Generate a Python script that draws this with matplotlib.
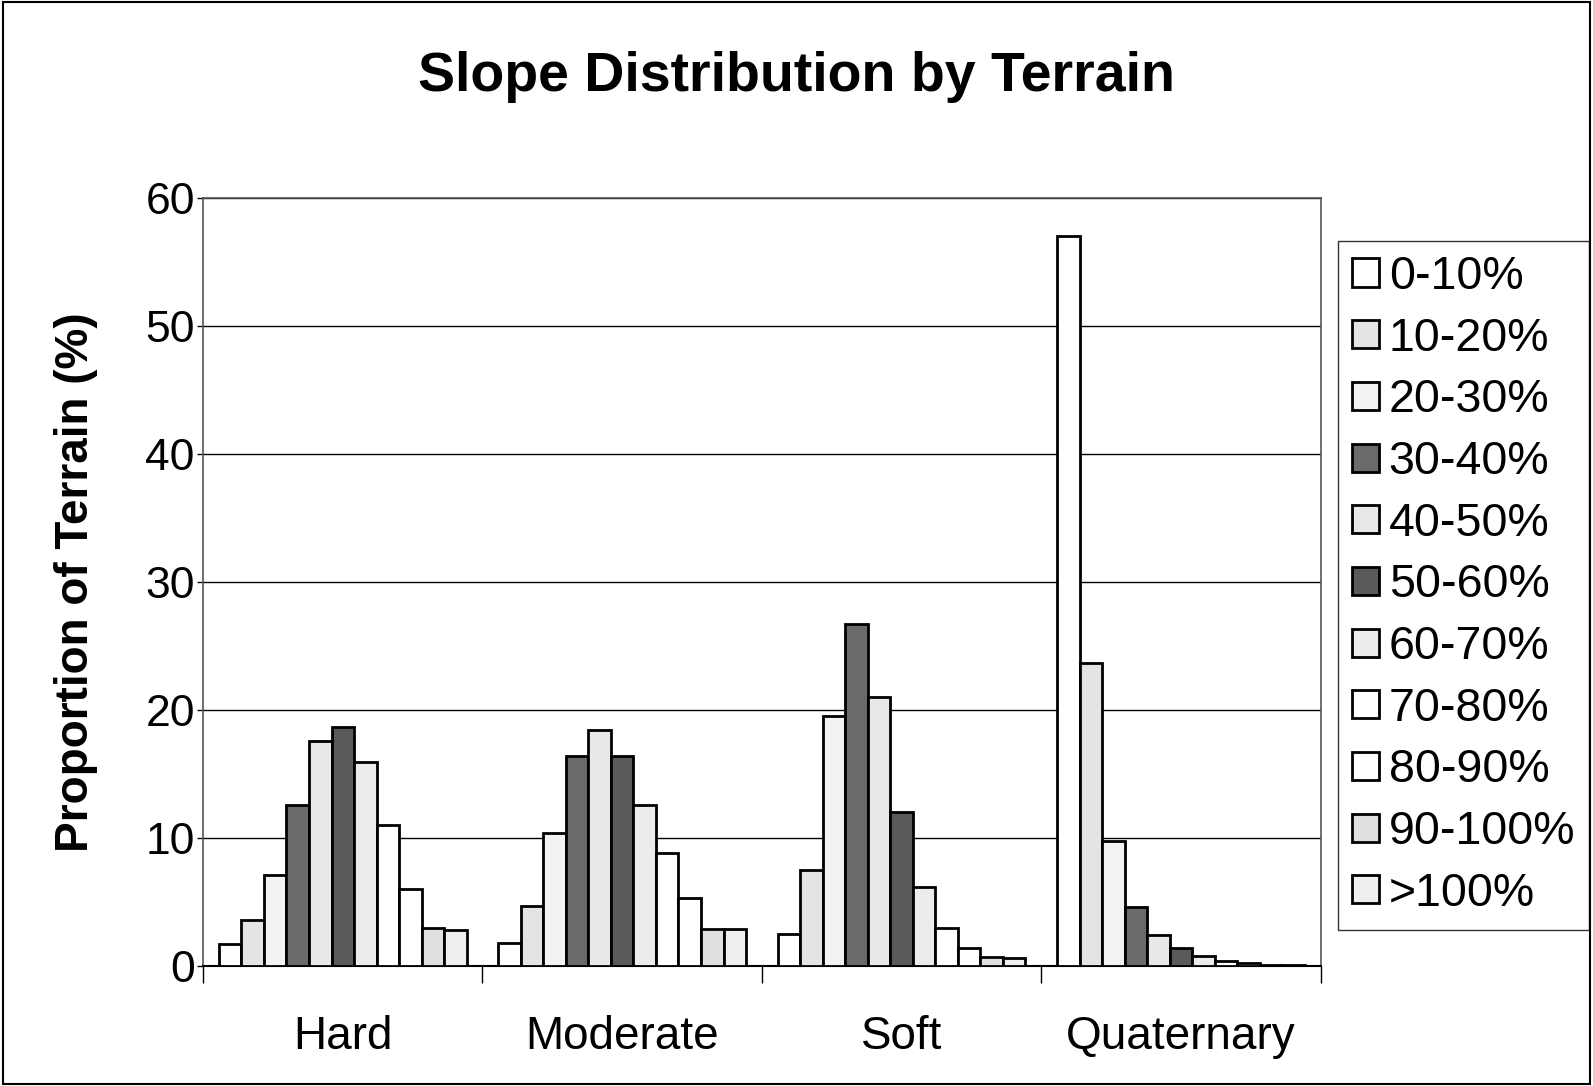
import matplotlib
matplotlib.use("Agg")
import matplotlib.pyplot as plt
import numpy as np
from matplotlib.patches import Rectangle

plt.rcParams['font.family'] = ['Liberation Sans', 'DejaVu Sans']

terrains = ['Hard', 'Moderate', 'Soft', 'Quaternary']
slope_classes = ['0-10%', '10-20%', '20-30%', '30-40%', '40-50%', '50-60%',
                 '60-70%', '70-80%', '80-90%', '90-100%', '>100%']

# proportion of terrain (%) per slope class, one list per terrain
hard = [1.7, 3.6, 7.1, 12.6, 17.6, 18.7, 15.9, 11.0, 6.0, 3.0, 2.8]
moderate = [1.8, 4.7, 10.4, 16.4, 18.4, 16.4, 12.6, 8.8, 5.3, 2.9, 2.9]
soft = [2.5, 7.5, 19.5, 26.7, 21.0, 12.0, 6.2, 3.0, 1.4, 0.7, 0.6]
quaternary = [57.0, 23.7, 9.8, 4.6, 2.4, 1.4, 0.8, 0.4, 0.2, 0.1, 0.05]

fills = ['white', '#e4e4e4', '#f2f2f2', '#6a6a6a', '#e8e8e8', '#5a5a5a',
         '#ececec', 'white', 'white', '#e0e0e0', '#eeeeee']

data = np.array([hard, moderate, soft, quaternary])

fig = plt.figure(figsize=(15.93, 10.86), dpi=100)
ax = fig.add_axes([0.1275, 0.1105, 0.7015, 0.7072])

n = len(slope_classes)
w = 1 / 12.4
x = np.arange(len(terrains))
for i, lab in enumerate(slope_classes):
    ax.bar(x + (i - (n - 1) / 2) * w, data[:, i], width=w, color=fills[i],
           edgecolor='black', linewidth=2.0, label=lab, zorder=3)

ax.set_xlim(-0.5, 3.5)
ax.set_ylim(0, 60)
ax.set_yticks(range(0, 61, 10))
ax.yaxis.grid(True, color='black', linewidth=1.0, zorder=0)
ax.tick_params(axis='y', labelsize=32, length=4, width=1, direction='out', pad=2)

ax.set_xticks(np.arange(-0.5, 3.6, 1.0))
ax.set_xticklabels([])
ax.set_xticks(x, minor=True)
ax.set_xticklabels(terrains, minor=True)
ax.tick_params(axis='x', which='major', length=12, width=1, direction='out')
ax.tick_params(axis='x', which='minor', length=0, labelsize=33, pad=35)

for side in ['top', 'right', 'left']:
    ax.spines[side].set_color('#555555')
    ax.spines[side].set_linewidth(1.2)
ax.spines['bottom'].set_color('black')
ax.spines['bottom'].set_linewidth(1.5)

ax.set_ylabel('Proportion of Terrain (%)', fontsize=33, fontweight='bold', labelpad=34)
fig.text(0.5, 0.929, 'Slope Distribution by Terrain', fontsize=40, fontweight='bold',
         ha='center', va='center')

leg = ax.legend(loc='upper left', bbox_to_anchor=(1.016, 0.944), fontsize=33.5,
                frameon=True, fancybox=False, edgecolor='black', labelspacing=0.38,
                handlelength=0.58, handleheight=0.55, handletextpad=0.2,
                borderpad=0.3, borderaxespad=0)
leg.get_frame().set_linewidth(1.0)

fig.patches.append(Rectangle((0.002, 0.002), 0.996, 0.996, transform=fig.transFigure,
                             fill=False, edgecolor='black', linewidth=1.5))

fig.savefig('out.png', dpi=100)
